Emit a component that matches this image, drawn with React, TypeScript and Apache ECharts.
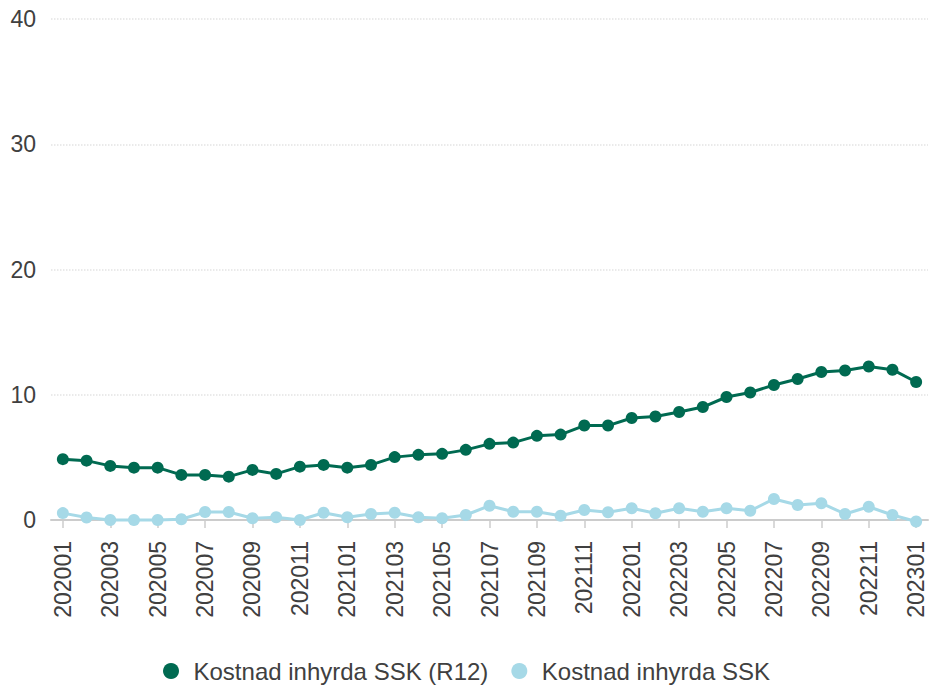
import React, { useEffect, useRef } from "react";
import * as echarts from "echarts";

const categories: string[] = [
  "202001", "202002", "202003", "202004", "202005", "202006", "202007", "202008", "202009", "202010", "202011", "202012",
  "202101", "202102", "202103", "202104", "202105", "202106", "202107", "202108", "202109", "202110", "202111", "202112",
  "202201", "202202", "202203", "202204", "202205", "202206", "202207", "202208", "202209", "202210", "202211", "202212",
  "202301",
];

const seriesR12Name = "Kostnad inhyrda SSK (R12)";
const seriesR12: number[] = [
  4.86, 4.74, 4.32, 4.18, 4.18, 3.6, 3.6, 3.46, 4.0, 3.68, 4.26, 4.4,
  4.18, 4.4, 5.02, 5.2, 5.28, 5.6, 6.08, 6.18, 6.72, 6.82, 7.54, 7.54,
  8.14, 8.26, 8.62, 9.02, 9.82, 10.18, 10.78, 11.26, 11.82, 11.94, 12.26, 12.0,
  11.02,
];

const seriesMonthName = "Kostnad inhyrda SSK";
const seriesMonth: number[] = [
  0.55, 0.2, 0.0, 0.0, 0.0, 0.06, 0.64, 0.64, 0.14, 0.22, 0.0, 0.58,
  0.22, 0.48, 0.58, 0.22, 0.14, 0.4, 1.14, 0.66, 0.66, 0.34, 0.8, 0.62,
  0.94, 0.54, 0.94, 0.66, 0.94, 0.74, 1.68, 1.2, 1.34, 0.48, 1.06, 0.4,
  -0.12,
];

const yMin = 0;
const yMax = 40;
const yInterval = 10;

const FONT = "'Liberation Sans', Arial, sans-serif";
const TEXT = "#404040";
const GREEN = "#006a51";
const BLUE = "#a6d9e7";

export default function App() {
  const ref = useRef<HTMLDivElement>(null);

  useEffect(() => {
    if (!ref.current) return;
    const chart = echarts.init(ref.current, undefined, { renderer: "svg" });
    chart.setOption({
      animation: false,
      backgroundColor: "#ffffff",
      textStyle: { fontFamily: FONT },
      grid: { left: 51, right: 5, top: 19, bottom: 170, containLabel: false },
      legend: {
        top: 654,
        left: "center",
        icon: "circle",
        itemWidth: 35,
        itemHeight: 16,
        itemGap: 23,
        textStyle: { fontSize: 24, color: TEXT, fontFamily: FONT },
        data: [seriesR12Name, seriesMonthName],
      },
      xAxis: {
        type: "category",
        data: categories,
        boundaryGap: true,
        axisLine: { show: true, lineStyle: { color: "#cccccc", width: 2 } },
        axisTick: { show: true, alignWithLabel: true, interval: 1, length: 8, lineStyle: { color: "#cccccc", width: 1.5 } },
        axisLabel: { interval: 1, rotate: 90, margin: 21, fontSize: 23, color: TEXT, fontFamily: FONT },
        splitLine: { show: false },
      },
      yAxis: {
        type: "value",
        min: yMin,
        max: yMax,
        interval: yInterval,
        axisLine: { show: false },
        axisTick: { show: false },
        axisLabel: { margin: 15, fontSize: 23, color: TEXT, fontFamily: FONT },
        splitLine: { show: true, lineStyle: { color: "#e3e3e3", type: "dotted", width: 1.5 } },
      },
      series: [
        {
          name: seriesR12Name,
          type: "line",
          data: seriesR12,
          clip: false,
          symbol: "circle",
          symbolSize: 12,
          lineStyle: { color: GREEN, width: 3 },
          itemStyle: { color: GREEN },
          z: 3,
        },
        {
          name: seriesMonthName,
          type: "line",
          data: seriesMonth,
          clip: false,
          symbol: "circle",
          symbolSize: 12,
          lineStyle: { color: BLUE, width: 3 },
          itemStyle: { color: BLUE },
          z: 2,
        },
      ],
    });
    return () => chart.dispose();
  }, []);

  return (
    <div
      ref={ref}
      style={{ position: "fixed", left: 0, top: 0, width: 933, height: 690, background: "#fff" }}
    />
  );
}
